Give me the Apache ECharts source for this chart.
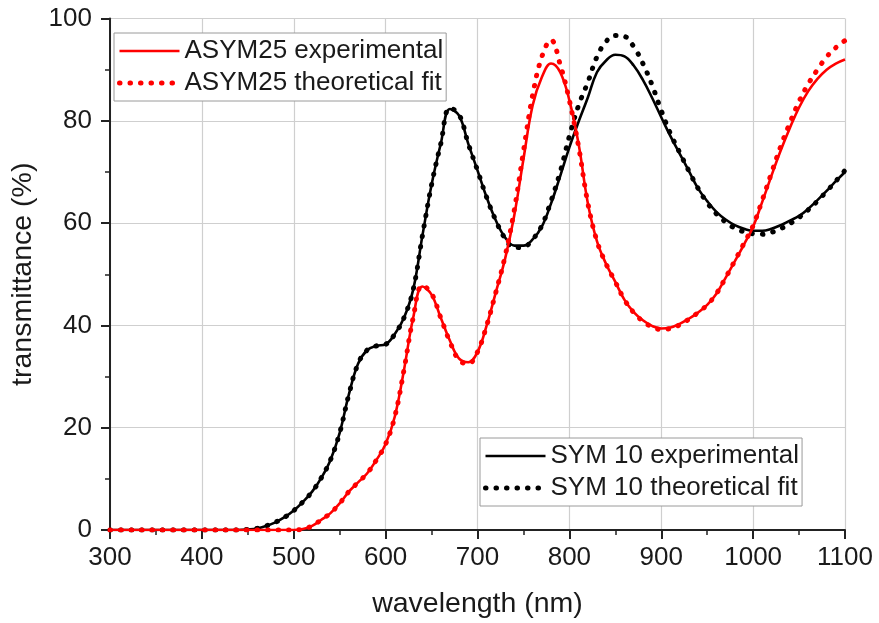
<!DOCTYPE html>
<html>
<head>
<meta charset="utf-8">
<script src="https://cdn.jsdelivr.net/npm/echarts@6/dist/echarts.min.js"></script>
<style>html,body{margin:0;padding:0;background:#fff}#c{width:879px;height:623px}</style>
</head>
<body>
<div id="c"></div>
<script>
// wavelengths (nm), 300..1100 step 10
const wavelength = [];
for (let w = 300; w <= 1100; w += 10) wavelength.push(w);

const sym10Exp = [
  0,0,0,0,0,0,0,0,0,0,0,0,0,0,0,            // 300-440
  0.1,0.3,0.8,1.5,2.5,3.8,5.5,7.5,10.2,13.7, // 450-540
  19.0,26.5,32.5,35.2,36.0,36.3,38.3,41.5,47.0,57.5, // 550-640
  67.5,75.5,82.3,81.0,75.5,70.3,65.0,60.5,57.2,55.6, // 650-740
  55.6,56.8,59.3,63.8,69.2,74.8,79.8,84.5,89.5,91.8, // 750-840
  92.9,92.6,90.8,88.0,84.5,80.7,77.0,73.6,70.2,66.8, // 850-940
  64.3,62.2,60.7,59.6,58.9,58.5,58.5,58.9,59.6,60.5, // 950-1040
  61.4,62.8,64.5,66.3,68.2,70.0                      // 1050-1100
];
const sym10Fit = [
  0,0,0,0,0,0,0,0,0,0,0,0,0,0,0,
  0.1,0.3,0.8,1.5,2.5,3.8,5.5,7.5,10.2,13.7,
  19.0,26.5,32.5,35.2,36.0,36.3,38.3,41.5,47.0,57.5,
  67.5,75.5,82.5,81.2,75.5,70.3,65.0,60.5,57.0,55.2,
  55.3,56.8,59.5,64.3,70.0,77.0,83.0,87.5,92.5,95.5,
  96.7,96.5,94.5,91.2,87.0,82.0,77.5,73.8,70.2,66.8,
  64.0,61.8,60.2,59.0,58.3,57.9,57.8,58.2,58.9,59.9,
  61.1,62.6,64.3,66.2,68.2,70.3
];
const asym25Exp = [
  0,0,0,0,0,0,0,0,0,0,0,0,0,0,0,0,0,0,0,0,0, // 300-500
  0.2,0.8,2.0,3.3,5.2,7.5,9.3,11.1,13.7,16.8, // 510-600
  22.2,31.3,41.5,47.6,46.0,41.5,37.0,33.5,32.8,34.8, // 610-700
  40.0,46.5,53.0,61.5,72.5,83.0,88.5,91.2,89.5,84.0, // 710-800
  75.5,64.0,56.5,52.0,48.5,45.0,42.6,41.0,39.9,39.4, // 810-900
  39.6,40.3,41.3,42.5,44.0,46.2,49.3,52.5,55.8,59.3, // 910-1000
  64.2,69.3,74.2,78.6,82.6,85.8,88.2,90.0,91.2,92.0  // 1010-1100
];
const asym25Fit = [
  0,0,0,0,0,0,0,0,0,0,0,0,0,0,0,0,0,0,0,0,0,
  0.2,0.8,2.0,3.3,5.2,7.5,9.3,11.1,13.7,16.8,
  22.2,31.3,41.5,47.8,46.2,41.5,36.8,33.2,32.5,34.8,
  40.0,46.5,53.5,62.5,74.0,85.0,92.5,95.8,91.0,84.0,
  75.0,64.0,56.5,52.0,48.5,45.0,42.5,40.8,39.7,39.2,
  39.4,40.1,41.2,42.5,44.0,46.2,49.3,52.6,56.0,59.5,
  64.5,69.8,75.0,79.6,83.8,87.2,90.0,92.5,94.3,95.7
];

const xTicks = [300,400,500,600,700,800,900,1000,1100];
const yTicks = [0,20,40,60,80,100];

const toPairs = arr => wavelength.map((w, i) => [w, arr[i]]);
const FONT = '"Liberation Sans", Arial, sans-serif';
const txt = '#1a1a1a';

const chart = echarts.init(document.getElementById('c'), null, {renderer: 'canvas'});
const dotStyle = (c) => ({color: c, width: 5, type: [0.5, 10], cap: 'round'});
const solidStyle = (c) => ({color: c, width: 2.6, type: 'solid'});
const legendCommon = {
  orient: 'vertical',
  itemWidth: 60, itemHeight: 14, itemGap: 6,
  padding: [5, 3, 5, 3],
  borderColor: '#9a9a9a', borderWidth: 1, backgroundColor: '#fff',
  itemStyle: {color: 'rgba(0,0,0,0)', borderWidth: 0, opacity: 0},
  lineStyle: {width: 'inherit', type: 'inherit', cap: 'inherit'},
  textStyle: {fontSize: 26, color: txt, fontFamily: FONT}
};

chart.setOption({
  animation: false,
  backgroundColor: '#fff',
  grid: {left: 110, right: 34, top: 18.5, bottom: 93, outerBoundsMode: 'none', containLabel: false},
  xAxis: {
    type: 'value', min: xTicks[0], max: xTicks[xTicks.length - 1], interval: 100,
    name: 'wavelength (nm)', nameLocation: 'middle', nameGap: 60,
    nameTextStyle: {fontSize: 28.5, color: txt, fontFamily: FONT},
    axisLine: {lineStyle: {color: '#222', width: 2}},
    axisTick: {length: 9, lineStyle: {color: '#222', width: 2}},
    minorTick: {show: true, splitNumber: 2, length: 5, lineStyle: {color: '#222', width: 1.5}},
    axisLabel: {fontSize: 26, color: txt, fontFamily: FONT, margin: 15, formatter: v => String(v)},
    splitLine: {show: true, lineStyle: {color: '#cfcfcf', width: 1.2}}
  },
  yAxis: {
    type: 'value', min: yTicks[0], max: yTicks[yTicks.length - 1], interval: 20,
    name: 'transmittance (%)', nameLocation: 'middle', nameGap: 66,
    nameTextStyle: {fontSize: 28.5, color: txt, fontFamily: FONT},
    axisLine: {show: true, lineStyle: {color: '#222', width: 2}},
    axisTick: {show: true, length: 9, lineStyle: {color: '#222', width: 2}},
    minorTick: {show: true, splitNumber: 2, length: 5, lineStyle: {color: '#222', width: 1.5}},
    axisLabel: {fontSize: 26, color: txt, fontFamily: FONT, margin: 18, formatter: v => String(v)},
    splitLine: {show: true, lineStyle: {color: '#cfcfcf', width: 1.2}}
  },
  legend: [
    Object.assign({}, legendCommon, {
      data: ['ASYM25 experimental', 'ASYM25 theoretical fit'],
      left: 114, top: 33
    }),
    Object.assign({}, legendCommon, {
      data: ['SYM 10 experimental', 'SYM 10 theoretical fit'],
      left: 480, top: 438
    })
  ],
  series: [
    {name: 'SYM 10 experimental', type: 'line', data: toPairs(sym10Exp), symbol: 'none', smooth: 0.4, lineStyle: solidStyle('#000'), itemStyle: {color: '#000'}, z: 2},
    {name: 'SYM 10 theoretical fit', type: 'line', data: toPairs(sym10Fit), symbol: 'none', smooth: 0.4, lineStyle: dotStyle('#000'), itemStyle: {color: '#000'}, z: 3},
    {name: 'ASYM25 experimental', type: 'line', data: toPairs(asym25Exp), symbol: 'none', smooth: 0.4, lineStyle: solidStyle('#ff0000'), itemStyle: {color: '#ff0000'}, z: 4},
    {name: 'ASYM25 theoretical fit', type: 'line', data: toPairs(asym25Fit), symbol: 'none', smooth: 0.4, lineStyle: dotStyle('#ff0000'), itemStyle: {color: '#ff0000'}, z: 5}
  ]
});
</script>
</body>
</html>
